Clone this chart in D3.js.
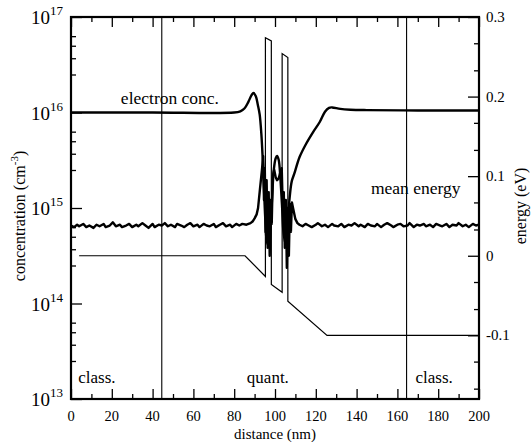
<!DOCTYPE html>
<html>
<head>
<meta charset="utf-8">
<script src="https://cdn.jsdelivr.net/npm/d3@7"></script>
<style>
  body { margin: 0; background: #fff; }
  svg { font-family: "Liberation Serif", "DejaVu Serif", serif; }
  .axis path { display: none; }
  .axis line { stroke: #000; stroke-width: 1.3; }
</style>
</head>
<body>
<script>
// ---- data ----
var xMajor = [0, 20, 40, 60, 80, 100, 120, 140, 160, 180, 200];
var xMinor = [10, 30, 50, 70, 90, 110, 130, 150, 170, 190];
var concMajor = [1e13, 1e14, 1e15, 1e16, 1e17];
var concExp = [13, 14, 15, 16, 17];
var concMinorMant = [2.5, 3.7, 5, 6.3];
var energyMajor = [-0.1, 0, 0.1, 0.2, 0.3];
var energyLabels = ['-0.1', '0', '0.1', '0.2', '0.3'];
var energyMinor = [-0.167, -0.133, -0.067, -0.033, 0.033, 0.067, 0.133, 0.167, 0.233, 0.267];

var boundaries = [44.5, 164.5];

// electron concentration (cm^-3) vs distance (nm)
var electronConc = [
  [0, 1.0e16], [40, 1.0e16], [80, 1.0e16], [83, 1.03e16], [85, 1.1e16], [87, 1.3e16],
  [88.5, 1.52e16], [89.5, 1.6e16], [90.6, 1.48e16], [91.6, 1.2e16], [92.5, 9.5e15],
  [93.3, 6e15], [94, 3.2e15], [94.6, 1.6e15], [95.2, 8e14], [96, 4.5e14], [97, 4e14],
  [97.8, 6.5e14], [98.6, 1.3e15], [99.4, 2.5e15], [100.3, 3.3e15], [101, 3.5e15],
  [101.8, 3.2e15], [102.6, 2.1e15], [103.4, 1.1e15], [104.2, 5.5e14], [105.2, 4.2e14],
  [106.2, 7e14], [107.2, 1.3e15], [108.2, 1.9e15], [109.5, 2.3e15], [112, 3.4e15],
  [115, 4.6e15], [118.6, 6.2e15], [122, 8e15], [124.5, 1.02e16], [126.5, 1.12e16],
  [128, 1.13e16], [132, 1.09e16], [137, 1.07e16], [145, 1.06e16], [170, 1.05e16], [200, 1.05e16]
];

// mean energy (eV) vs distance (nm)
var meanEnergy = [
  [0, 0.038], [1.5, 0.036], [3, 0.039], [4, 0.037], [6, 0.040], [7.5, 0.036], [9, 0.038],
  [11, 0.035], [12.5, 0.039], [14, 0.037], [16, 0.040], [17, 0.036], [19, 0.038], [20.5, 0.042],
  [22, 0.037], [24, 0.039], [25, 0.036], [27, 0.038], [28.5, 0.040], [30, 0.036], [32, 0.039],
  [33, 0.037], [35, 0.041], [36.5, 0.038], [38, 0.035], [40, 0.040], [41, 0.036], [43, 0.039],
  [44.5, 0.038], [46, 0.041], [47.5, 0.037], [49, 0.039], [51, 0.036], [52, 0.040], [54, 0.038],
  [55.5, 0.036], [57, 0.039], [58.5, 0.041], [60, 0.037], [62, 0.039], [63, 0.036], [65, 0.040],
  [66.5, 0.038], [68, 0.037], [70, 0.040], [71, 0.036], [73, 0.039], [74.5, 0.041], [76, 0.037],
  [78, 0.039], [79, 0.036], [81, 0.040], [82.5, 0.038], [84, 0.040], [86, 0.039], [88, 0.041],
  [89, 0.043], [90, 0.047], [91, 0.052],
  [91.7, 0.060], [92.6, 0.083], [93.6, 0.108], [94.2, 0.125], [94.6, 0.07], [95, 0.11],
  [95.4, 0.03], [95.9, 0.095], [96.4, 0.01], [96.9, 0.08], [97.4, 0.0], [97.9, 0.07],
  [98.4, 0.04], [98.9, 0.1], [99.6, 0.108], [100.3, 0.099], [101, 0.095], [101.8, 0.097],
  [102.6, 0.105], [103.3, 0.11], [103.8, 0.06], [104.3, 0.08], [104.8, 0.01], [105.3, 0.07],
  [105.8, -0.015], [106.3, 0.06], [106.8, 0.0], [107.3, 0.065], [107.8, 0.03], [108.3, 0.067],
  [109, 0.058], [110, 0.046], [111, 0.041], [112, 0.039], [113.5, 0.037], [115, 0.040],
  [116.5, 0.038], [118, 0.036], [120, 0.039], [121, 0.041], [123, 0.037], [124.5, 0.039],
  [126, 0.036], [128, 0.040], [129, 0.038], [131, 0.037], [132.5, 0.040], [134, 0.036],
  [136, 0.039], [137.5, 0.038], [139, 0.041], [141, 0.037], [142, 0.039], [144, 0.036],
  [145.5, 0.040], [147, 0.038], [149, 0.037], [150, 0.040], [152, 0.036], [153.5, 0.039],
  [155, 0.041], [157, 0.038], [158, 0.036], [160, 0.039], [161.5, 0.040], [163, 0.037],
  [165, 0.038], [166, 0.041], [168, 0.036], [169.5, 0.039], [171, 0.038], [173, 0.040],
  [174, 0.037], [176, 0.039], [177.5, 0.036], [179, 0.040], [181, 0.038], [182, 0.037],
  [184, 0.040], [185.5, 0.036], [187, 0.039], [189, 0.038], [190, 0.041], [192, 0.037],
  [193.5, 0.039], [195, 0.036], [197, 0.040], [198.5, 0.038], [200, 0.039]
];

// conduction band potential (eV) vs distance (nm)
var potential = [
  [4, 0], [85.3, 0], [95.3, -0.026], [95.3, 0.274], [98.2, 0.270], [98.2, -0.036],
  [103.5, -0.046], [103.5, 0.254], [106.3, 0.249], [106.3, -0.057], [125.5, -0.100], [200, -0.100]
];

var curveLabels = [
  { text: 'electron conc.', nm: 48.5, conc: 1.24e16 },
  { text: 'mean energy', nm: 169, energy: 0.078 }
];
var regionLabels = [
  { text: 'class.', nm: 12.7 },
  { text: 'quant.', nm: 96.5 },
  { text: 'class.', nm: 178 }
];

// ---- layout ----
var margin = {top: 17, right: 52, bottom: 43, left: 71},
  width  = 531 - margin.left - margin.right,
  height = 442 - margin.top - margin.bottom;

var x = d3.scaleLinear().domain([0, 200]).range([0, width]),
  yc  = d3.scaleLog().domain([1e13, 1e17]).range([height, 0]),
  ye  = d3.scaleLinear().domain([-0.18, 0.3]).range([height, 0]);

var svg = d3.select('body').append('svg')
  .attr('width', 531)
  .attr('height', 442);

var g = svg.append('g')
  .attr('transform', 'translate(' + margin.left + ',' + margin.top + ')');

// ticks (all pointing inward)
g.append('g').attr('class', 'axis')
  .attr('transform', 'translate(0,' + height + ')')
  .call(d3.axisBottom(x).tickValues(xMajor).tickSize(-10).tickFormat(''));
g.append('g').attr('class', 'axis')
  .attr('transform', 'translate(0,' + height + ')')
  .call(d3.axisBottom(x).tickValues(xMinor).tickSize(-5).tickFormat(''));
g.append('g').attr('class', 'axis')
  .call(d3.axisTop(x).tickValues(xMajor).tickSize(-10).tickFormat(''));
g.append('g').attr('class', 'axis')
  .call(d3.axisTop(x).tickValues(xMinor).tickSize(-5).tickFormat(''));

var concMinor = [];
concMajor.slice(0, 4).forEach(function(d) {
  concMinorMant.forEach(function(m) { concMinor.push(d * m); });
});
g.append('g').attr('class', 'axis')
  .call(d3.axisLeft(yc).tickValues(concMajor).tickSize(-11).tickFormat(''));
g.append('g').attr('class', 'axis')
  .call(d3.axisLeft(yc).tickValues(concMinor).tickSize(-5).tickFormat(''));

g.append('g').attr('class', 'axis')
  .attr('transform', 'translate(' + width + ',0)')
  .call(d3.axisRight(ye).tickValues(energyMajor).tickSize(-11).tickFormat(''));
g.append('g').attr('class', 'axis')
  .attr('transform', 'translate(' + width + ',0)')
  .call(d3.axisRight(ye).tickValues(energyMinor).tickSize(-5).tickFormat(''));

// tick labels
g.selectAll('.xlab').data(xMajor).enter().append('text')
  .attr('x', function(d) { return x(d); })
  .attr('y', height + 22)
  .attr('text-anchor', 'middle')
  .style('font-size', '14.5px')
  .text(function(d) { return d; });

var clab = g.selectAll('.clab').data(concMajor).enter().append('text')
  .attr('x', -8)
  .attr('y', function(d) { return yc(d) + 7; })
  .attr('text-anchor', 'end')
  .style('font-size', '19px');
clab.append('tspan').text('10');
clab.append('tspan')
  .attr('dy', -9)
  .style('font-size', '13px')
  .text(function(d, i) { return concExp[i]; });

g.selectAll('.elab').data(energyMajor).enter().append('text')
  .attr('x', width + 7)
  .attr('y', function(d) { return ye(d) + 5; })
  .style('font-size', '15px')
  .text(function(d, i) { return energyLabels[i]; });

// axis titles
svg.append('text')
  .attr('x', margin.left + width / 2)
  .attr('y', 439)
  .attr('text-anchor', 'middle')
  .style('font-size', '15px')
  .text('distance (nm)');

var ytitle = svg.append('text')
  .attr('transform', 'translate(25,' + (margin.top + height / 2 + 8) + ') rotate(-90)')
  .attr('text-anchor', 'middle')
  .style('font-size', '16px');
ytitle.append('tspan').text('concentration (cm');
ytitle.append('tspan').attr('dy', -7).style('font-size', '11px').text('-3');
ytitle.append('tspan').attr('dy', 7).text(')');

svg.append('text')
  .attr('transform', 'translate(526,' + (margin.top + height / 2 - 2) + ') rotate(-90)')
  .attr('text-anchor', 'middle')
  .style('font-size', '16px')
  .text('energy (eV)');

// region boundaries
g.selectAll('.bound').data(boundaries).enter().append('line')
  .attr('x1', function(d) { return x(d); })
  .attr('x2', function(d) { return x(d); })
  .attr('y1', 0)
  .attr('y2', height)
  .attr('stroke', '#000')
  .attr('stroke-width', 1.1);

// curves
var concLine = d3.line()
  .x(function(d) { return x(d[0]); })
  .y(function(d) { return yc(d[1]); })
  .curve(d3.curveCatmullRom);

var energyLine = d3.line()
  .x(function(d) { return x(d[0]); })
  .y(function(d) { return ye(d[1]); });

g.append('path')
  .datum(potential)
  .attr('fill', 'none')
  .attr('stroke', '#000')
  .attr('stroke-width', 1.2)
  .attr('d', energyLine);

g.append('path')
  .datum(meanEnergy)
  .attr('fill', 'none')
  .attr('stroke', '#000')
  .attr('stroke-width', 2.4)
  .attr('stroke-linejoin', 'round')
  .attr('d', energyLine);

g.append('path')
  .datum(electronConc)
  .attr('fill', 'none')
  .attr('stroke', '#000')
  .attr('stroke-width', 2.4)
  .attr('d', concLine);

// annotations
g.append('text')
  .attr('x', x(curveLabels[0].nm))
  .attr('y', yc(curveLabels[0].conc))
  .attr('text-anchor', 'middle')
  .style('font-size', '17.5px')
  .text(curveLabels[0].text);

g.append('text')
  .attr('x', x(curveLabels[1].nm))
  .attr('y', ye(curveLabels[1].energy))
  .attr('text-anchor', 'middle')
  .style('font-size', '17.5px')
  .text(curveLabels[1].text);

g.selectAll('.region').data(regionLabels).enter().append('text')
  .attr('x', function(d) { return x(d.nm); })
  .attr('y', height - 16)
  .attr('text-anchor', 'middle')
  .style('font-size', '17px')
  .text(function(d) { return d.text; });

// frame
g.append('rect')
  .attr('width', width)
  .attr('height', height)
  .attr('fill', 'none')
  .attr('stroke', '#000')
  .attr('stroke-width', 2.2);
</script>
</body>
</html>
